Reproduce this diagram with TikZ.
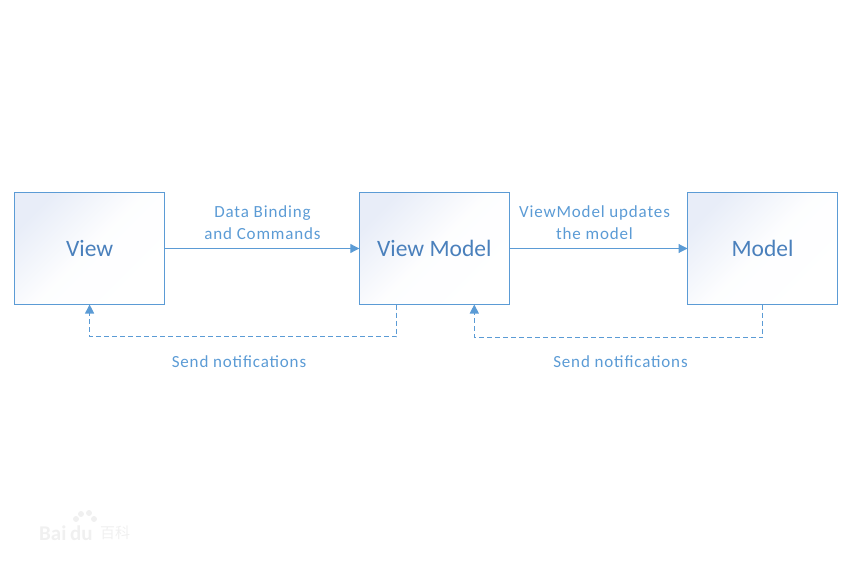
\documentclass[tikz,border=0pt]{standalone}
\usepackage{fontspec}
\setmainfont{Carlito}
\newfontfamily\spacedfont[LetterSpace=5]{Carlito}
\newfontfamily\cjkfont{Noto Sans CJK SC}
\usetikzlibrary{positioning,arrows.meta}
\definecolor{linecol}{HTML}{5B9BD5}
\definecolor{titlecol}{HTML}{4A80BC}
\definecolor{labelcol}{HTML}{5B9BD5}
\definecolor{tintcol}{HTML}{E8EDF8}
\definecolor{markcol}{HTML}{F0F0F0}

\tikzstyle{mybox} = [draw=linecol, line width=1.1pt, rectangle, outer sep=0pt,
    minimum width=150pt, minimum height=112pt, shading=axis, top color=tintcol,
    bottom color=white, middle color=white!92!tintcol, shading angle=45,
    text=titlecol, font=\fontsize{23.5}{26}\selectfont]
\tikzstyle{mylabel} = [text=labelcol, align=center, inner sep=0pt,
    font=\spacedfont\fontsize{17}{22}\selectfont]
\tikzstyle{myarrow} = [draw=linecol, line width=1.1pt, -{Triangle[length=9pt,width=9pt]}]
\tikzstyle{mydash} = [myarrow, dash pattern=on 5pt off 3pt]
\tikzstyle{mymark} = [text=markcol, inner sep=0pt, font=\bfseries\fontsize{21}{21}\selectfont]

\begin{document}
\begin{tikzpicture}[x=1pt,y=1pt]
\useasboundingbox (0,0) rectangle (852,-567);
\node [mybox] (view) at (89.6,-248.5) {View};
\node [mybox, right=194.7pt of view] (vm) {View Model};
\node [mybox, right=178.2pt of vm] (model) {Model};

\draw [myarrow] (view) -- (vm);
\draw [myarrow] (vm) -- (model);

\node [mylabel] (bindlabel) at (262.5,-222.5) {Data Binding\\and Commands};
\node [mylabel] (updatelabel) at (594.5,-222.5) {ViewModel updates\\the model};

% dashed returns leave and enter off centre on the view model
\coordinate (vmout) at ([xshift=-37.5pt]vm.south);
\coordinate (vmin) at ([xshift=40pt]vm.south);
\draw [mydash] (vmout) -- ++(0,-32pt) -| (view.south);
\draw [mydash] (model.south) -- ++(0,-33pt) -| (vmin);

\node [mylabel] (notifyleft) at (239,-361.5) {Send notifications};
\node [mylabel] (notifyright) at (620.5,-361.5) {Send notifications};

% watermark
\node [mymark, anchor=west] (markbai) at (39,-533) {Bai};
\node [mymark, anchor=west] (markdu) at (70,-533) {du};
\node [mymark, anchor=west, font=\cjkfont\fontsize{15}{15}\selectfont] (markbaike) at (100,-533) {百科};
\foreach \px/\py/\pr in {76/-519/3, 81/-514/3, 89/-513/3, 94/-519/3} {
    \fill [markcol] (\px,\py) circle (\pr pt);
}
\end{tikzpicture}
\end{document}
